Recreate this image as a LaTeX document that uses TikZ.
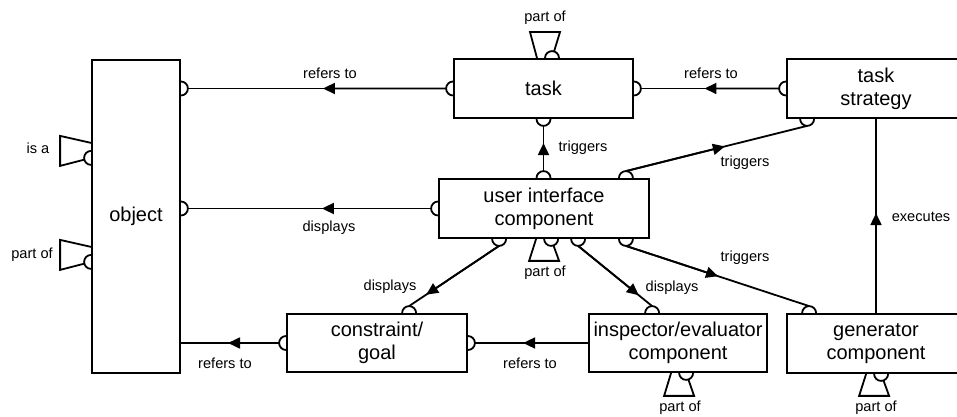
\documentclass[tikz,border=0pt]{standalone}
\usepackage{fontspec}
\setmainfont{Liberation Sans}
\usetikzlibrary{calc}
\usetikzlibrary{arrows.meta}

% socket on a box edge: name, point on edge, outward angle
\newcommand{\joint}[3]{%
  \draw [wire] (#2) ++(#3+90:7) arc [start angle=#3+90, delta angle=-180, radius=7];
  \path (#2) ++(#3:7) coordinate (#1);
}
% "part of" / "is a" plug: point on edge, transform, depth
\newcommand{\partof}[3]{%
  \begin{scope}[shift={(#1)}, #2]
    \draw [wire] (-7,0) arc [start angle=180, end angle=0, radius=7];
    \draw [wire] (-15,0) -- (-22,#3) -- (8,#3) -- ($(0,0)!7pt!(8,#3)$);
  \end{scope}
}

\begin{document}
\begin{tikzpicture}[x=1pt, y=1pt,
  wire/.style={line width=1.8pt},
  box/.style={draw, line width=1.8pt, inner sep=0pt, align=center, font=\fontsize{20}{23}\selectfont},
  lbl/.style={inner sep=0pt, font=\fontsize{14.6}{17}\selectfont},
  arrowmid/.style={wire, -{Triangle[length=12pt, width=11pt]}}]

\useasboundingbox (0,0) rectangle (957,417);
\clip (0,0) rectangle (957,417);

% Boxes
\node [box, minimum width=88, minimum height=313] (obj) at (136,200.5) {object};
\node [box, minimum width=179, minimum height=59] (task) at (543.5,328.5) {task};
\node [box, minimum width=178, minimum height=59] (strat) at (876,328.5) {task\\strategy};
\node [box, minimum width=210, minimum height=59] (ui) at (544,208.5) {user interface\\component};
\node [box, minimum width=180, minimum height=58] (cons) at (377,74) {constraint/\\goal};
\node [box, minimum width=178, minimum height=58] (insp) at (678,74) {inspector/evaluator\\component};
\node [box, minimum width=178, minimum height=59] (gen) at (876,73.5) {generator\\component};

% Sockets
\joint{ob1}{obj.east |- task.west}{0}
\joint{ob2}{obj.east |- ui.west}{0}
\coordinate (ob3) at (obj.east |- cons.west);
\joint{ta1}{task.west}{180}
\joint{ta2}{task.east}{0}
\joint{ta3}{task.south}{-90}
\joint{st1}{strat.west}{180}
\joint{st2}{$(strat.south west)+(21,0)$}{-90}
\joint{ui1}{ui.west}{180}
\joint{ui2}{ui.north -| task.south}{90}
\joint{ui3}{$(ui.north east)+(-24,0)$}{90}
\joint{ui4}{$(ui.south west)+(61,0)$}{-90}
\joint{ui5}{$(ui.south west)+(140,0)$}{-90}
\joint{ui6}{$(ui.south east)+(-24,0)$}{-90}
\joint{co1}{cons.west}{180}
\joint{co2}{cons.east}{0}
\joint{co3}{$(cons.north west)+(123,0)$}{90}
\joint{in1}{$(insp.north west)+(64,0)$}{90}
\joint{ge1}{$(gen.north west)+(23,0)$}{90}

% Links
\draw [wire] (ta1) -- (ob1);
\draw [arrowmid] (ta1) -- ($(ta1)!0.477!(ob1)$);
\draw [wire] (ui1) -- (ob2);
\draw [arrowmid] (ui1) -- ($(ui1)!0.449!(ob2)$);
\draw [wire] (st1) -- (ta2);
\draw [arrowmid] (st1) -- ($(st1)!0.54!(ta2)$);
\draw [wire] (ui2) -- (ta3);
\draw [arrowmid] (ui2) -- ($(ui2)!0.62!(ta3)$);
\draw [wire] (ui3) -- (st2);
\draw [arrowmid] (ui3) -- ($(ui3)!0.546!(st2)$);
\draw [wire] (ui6) -- (ge1);
\draw [arrowmid] (ui6) -- ($(ui6)!0.503!(ge1)$);
\draw [wire] (ui5) -- (in1);
\draw [arrowmid] (ui5) -- ($(ui5)!0.82!(in1)$);
\draw [wire] (ui4) -- (co3);
\draw [arrowmid] (ui4) -- ($(ui4)!0.81!(co3)$);
\draw [wire] (insp.west) -- (co2);
\draw [arrowmid] (insp.west) -- ($(insp.west)!0.574!(co2)$);
\draw [wire] (co1) -- (ob3);
\draw [arrowmid] (co1) -- ($(co1)!0.52!(ob3)$);
\draw [wire] (gen.north) -- (strat.south);
\draw [arrowmid] (gen.north) -- ($(gen.north)!0.515!(strat.south)$);

% Plugs
\partof{$(task.north)+(8.5,0)$}{}{26}
\partof{$(ui.south west)+(113,0)$}{yscale=-1}{22}
\partof{$(insp.south west)+(98,0)$}{yscale=-1}{23}
\partof{$(gen.south west)+(95,0)$}{yscale=-1}{22}
\partof{$(obj.south west)+(0,216)$}{cm={0,-1,-1,0,(0,0)}}{31}
\partof{$(obj.south west)+(0,112)$}{cm={0,-1,-1,0,(0,0)}}{31}

% Labels
\node [lbl] (l1) at (330,344) {refers to};
\node [lbl] (l2) at (329,189) {displays};
\node [lbl] (l3) at (711,344) {refers to};
\node [lbl] (l4) at (583,269) {triggers};
\node [lbl] (l5) at (745,254) {triggers};
\node [lbl] (l6) at (745,159) {triggers};
\node [lbl] (l7) at (672,129) {displays};
\node [lbl] (l8) at (390,130) {displays};
\node [lbl] (l9) at (530,54) {refers to};
\node [lbl] (l10) at (225,54) {refers to};
\node [lbl] (l11) at (921,200) {executes};
\node [lbl] (l12) at (38,269) {is a};
\node [lbl] (l13) at (32,162) {part of};
\node [lbl] (l14) at (545,399) {part of};
\node [lbl] (l15) at (545,144) {part of};
\node [lbl] (l16) at (680,9) {part of};
\node [lbl] (l17) at (876,9) {part of};

\end{tikzpicture}
\end{document}
